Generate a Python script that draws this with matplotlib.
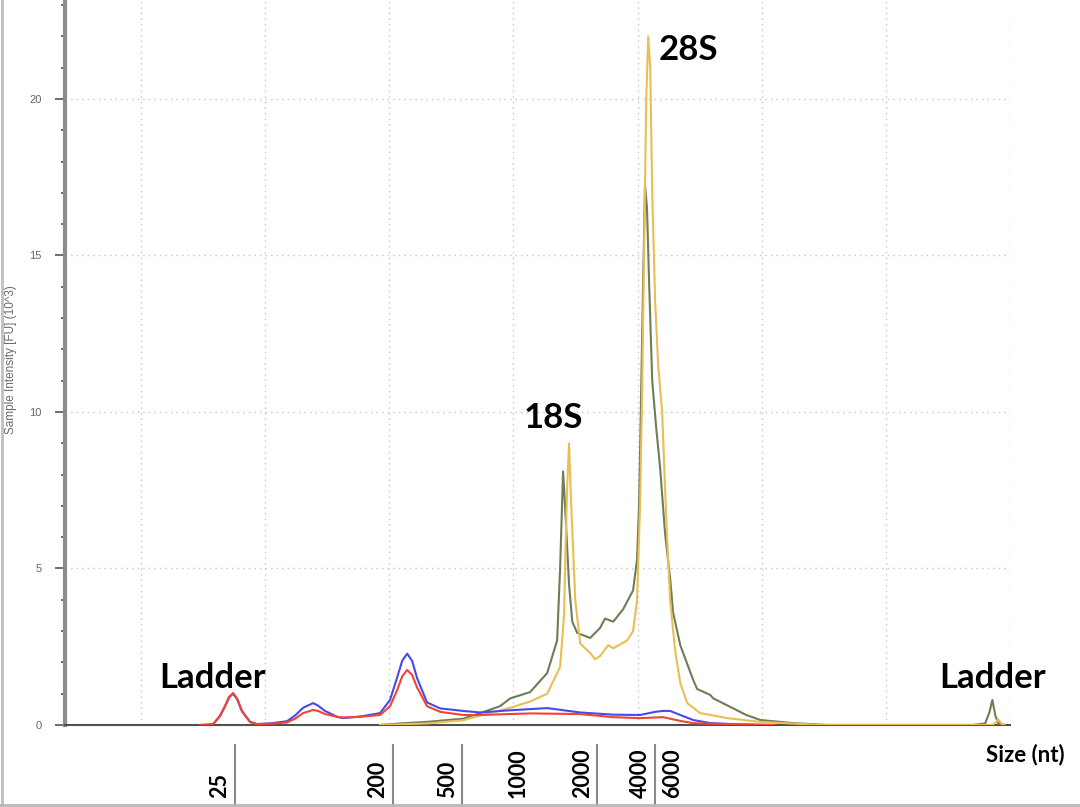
import matplotlib
matplotlib.use("Agg")
import matplotlib.pyplot as plt
from matplotlib.ticker import MultipleLocator, NullLocator
from matplotlib.lines import Line2D

# migration time (s) and intensity (FU x 10^3) for the four overlaid samples
red_t = [22.38, 22.90, 23.18, 23.38, 23.55, 23.71, 23.87, 24.07, 24.39, 24.67, 25.20, 25.88,
         26.20, 26.53, 26.93, 27.13, 27.41, 27.90, 28.14, 28.82, 29.63, 30.03, 30.31, 30.52,
         30.72, 30.92, 31.12, 31.52, 32.05, 32.97, 33.66, 35.67, 37.69, 39.02, 40.10, 41.03,
         41.72, 42.24, 42.93, 44.66, 45.50]
red_v = [0.0, 0.02, 0.30, 0.60, 0.90, 1.02, 0.85, 0.45, 0.10, 0.03, 0.04, 0.08,
         0.20, 0.38, 0.48, 0.45, 0.35, 0.26, 0.24, 0.26, 0.32, 0.60, 1.10, 1.55,
         1.76, 1.60, 1.20, 0.60, 0.42, 0.32, 0.32, 0.37, 0.35, 0.25, 0.22, 0.25,
         0.13, 0.06, 0.04, 0.02, 0.0]

blue_t = [22.38, 22.90, 23.18, 23.38, 23.55, 23.71, 23.87, 24.07, 24.39, 24.67, 25.20, 25.88,
          26.20, 26.53, 26.93, 27.13, 27.41, 27.90, 28.14, 28.82, 29.63, 30.03, 30.31, 30.52,
          30.72, 30.92, 31.12, 31.52, 32.05, 32.97, 33.66, 34.87, 36.36, 37.69, 39.02, 40.10,
          40.71, 41.03, 41.31, 41.72, 42.24, 42.93, 44.66]
blue_v = [0.0, 0.02, 0.28, 0.58, 0.88, 1.00, 0.83, 0.43, 0.10, 0.03, 0.05, 0.12,
          0.30, 0.55, 0.70, 0.62, 0.45, 0.26, 0.22, 0.27, 0.38, 0.80, 1.50, 2.05,
          2.28, 2.05, 1.50, 0.72, 0.53, 0.45, 0.40, 0.47, 0.54, 0.40, 0.33, 0.32,
          0.42, 0.45, 0.45, 0.32, 0.16, 0.06, 0.0]

green_t = [29.63, 30.44, 31.52, 32.97, 33.66, 34.46, 34.87, 35.67, 36.36, 36.76, 36.88, 37.00,
           37.08, 37.24, 37.37, 37.57, 38.09, 38.49, 38.69, 39.02, 39.42, 39.82, 39.98, 40.06,
           40.14, 40.22, 40.30, 40.38, 40.47, 40.59, 40.75, 40.91, 41.11, 41.31, 41.43, 41.72,
           42.24, 42.40, 42.93, 43.05, 43.73, 44.38, 44.94, 46.27, 47.64, 53.50, 54.00, 54.17,
           54.29, 54.41, 54.53, 54.80]
green_v = [0.0, 0.05, 0.10, 0.20, 0.38, 0.60, 0.85, 1.05, 1.66, 2.70, 5.00, 8.10,
           7.00, 4.50, 3.30, 2.94, 2.78, 3.10, 3.40, 3.30, 3.70, 4.30, 5.30, 7.00,
           10.40, 14.00, 17.25, 16.50, 14.00, 11.00, 9.50, 8.20, 6.10, 4.70, 3.60, 2.55,
           1.44, 1.15, 0.96, 0.85, 0.58, 0.32, 0.16, 0.06, 0.0, 0.0, 0.05, 0.40,
           0.80, 0.30, 0.05, 0.0]

yellow_t = [29.63, 31.52, 32.97, 33.66, 34.87, 35.67, 36.36, 36.88, 37.04, 37.08, 37.16, 37.24,
            37.33, 37.49, 37.69, 38.09, 38.29, 38.49, 38.82, 39.02, 39.58, 39.82, 39.98, 40.10,
            40.18, 40.26, 40.35, 40.43, 40.51, 40.59, 40.71, 40.83, 40.99, 41.11, 41.19, 41.31,
            41.51, 41.72, 42.00, 42.52, 43.61, 44.94, 47.36, 54.30, 54.45, 54.53, 54.65, 54.75]
yellow_v = [0.0, 0.05, 0.15, 0.30, 0.55, 0.75, 1.00, 1.85, 3.50, 5.00, 7.50, 9.00,
            7.00, 4.00, 2.60, 2.30, 2.10, 2.20, 2.55, 2.45, 2.70, 3.00, 4.00, 7.00,
            10.40, 15.00, 20.00, 22.00, 21.00, 17.00, 13.50, 11.50, 10.00, 7.50, 6.00, 4.00,
            2.40, 1.34, 0.70, 0.38, 0.22, 0.10, 0.0, 0.0, 0.10, 0.18, 0.05, 0.0]

# ladder sizes shown under the axis and where they sit (s)
ladder_labels = ['25', '200', '500', '1000', '2000', '4000', '6000']
ladder_t = [23.18, 29.55, 32.33, 35.19, 37.77, 40.10, 41.43]
ladder_marked = [True, True, True, False, True, True, False]

fig = plt.figure(figsize=(10.8, 8.07), dpi=100)
ax = fig.add_axes([65 / 1080, 82 / 807, 945 / 1080, 725 / 807])

ax.plot(green_t, green_v, color='#6e7d55', lw=1.5, zorder=3)
ax.plot(yellow_t, yellow_v, color='#e9be55', lw=1.5, zorder=4)
ax.plot(blue_t, blue_v, color='#4848ee', lw=1.5, zorder=5)
ax.plot(red_t, red_v, color='#f2442f', lw=1.5, zorder=6)

ax.set_xlim(16.94, 55.0)
ax.set_ylim(0, 23.16)

# dotted grid
for gx in range(20, 56, 5):
    ax.axvline(gx, color='#c4c4c4', lw=1, ls=(0, (1, 3)), zorder=1)
for gy in [5, 10, 15, 20]:
    ax.axhline(gy, color='#c4c4c4', lw=1, ls=(0, (1, 3)), zorder=1)

ax.spines['top'].set_visible(False)
ax.spines['right'].set_visible(False)
ax.spines['left'].set_color('#8c8c8c')
ax.spines['left'].set_linewidth(3)
ax.spines['bottom'].set_color('#505050')
ax.spines['bottom'].set_linewidth(1.5)

ax.xaxis.set_major_locator(NullLocator())
ax.yaxis.set_major_locator(MultipleLocator(5))
ax.yaxis.set_minor_locator(MultipleLocator(1))
ax.tick_params(axis='y', which='major', length=7, width=1.2, color='#555555',
               labelsize=8, labelcolor='#666666', pad=10)
ax.tick_params(axis='y', which='minor', length=3, width=1.2, color='#555555')
for lab in ax.get_yticklabels():
    lab.set_family('Liberation Sans')

fig.text(11 / 1080, 1 - 360 / 807, 'Sample Intensity [FU] (10^3)', rotation=90,
         ha='center', va='center', fontsize=8.5, color='#6a6a6a', family='Liberation Sans')

bold = dict(family='Lato', fontweight='bold', color='black')
fig.text(213 / 1080, 1 - 678 / 807, 'Ladder', ha='center', va='center', fontsize=25, **bold)
fig.text(993 / 1080, 1 - 678 / 807, 'Ladder', ha='center', va='center', fontsize=25, **bold)
fig.text(553 / 1080, 1 - 418 / 807, '18S', ha='center', va='center', fontsize=25, **bold)
fig.text(688 / 1080, 1 - 50 / 807, '28S', ha='center', va='center', fontsize=25, **bold)
fig.text(1025 / 1080, 1 - 755 / 807, 'Size (nt)', ha='center', va='center', fontsize=16, **bold)

# ladder size labels below the axis
trans = ax.get_xaxis_transform()
for lab, t, marked in zip(ladder_labels, ladder_t, ladder_marked):
    ax.text(t, -0.101, lab, rotation=90, ha='center', va='bottom', fontsize=15.5,
            transform=trans, clip_on=False, **bold)
    if marked:
        ax.add_line(Line2D([t + 0.6, t + 0.6], [-0.028, -0.113], transform=trans,
                           color='#8a8a8a', lw=1.5, clip_on=False))

# light frame of the screenshot
fig.add_artist(Line2D([0.002, 0.002], [0, 1], color='#c0c0c0', lw=2))
fig.add_artist(Line2D([0, 1], [0.003, 0.003], color='#b8b8b8', lw=2))

plt.savefig('out.png', dpi=100)
